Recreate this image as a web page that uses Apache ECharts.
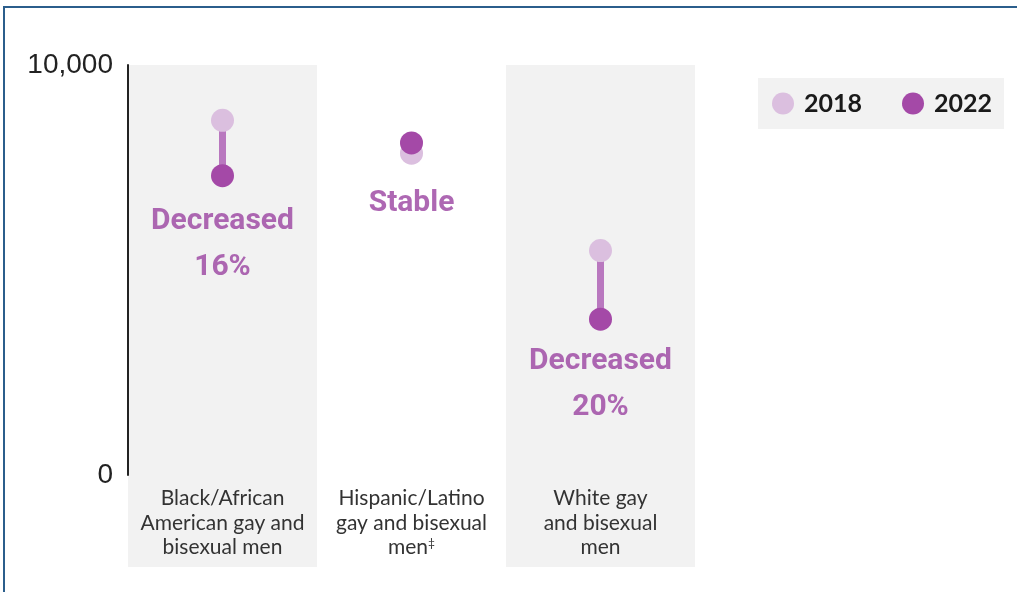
<!DOCTYPE html>
<html>
<head>
<meta charset="utf-8">
<script src="https://cdn.jsdelivr.net/npm/echarts@6/dist/echarts.min.js"></script>
<style>
  html, body { margin: 0; padding: 0; background: #fff; }
  #wrap { position: relative; width: 1017px; height: 592px; overflow: hidden; }
  #chart { position: absolute; left: 0; top: 0; width: 1017px; height: 592px; }
  #frame { position: absolute; left: 3px; top: 6px; right: -10px; bottom: -10px;
           border-left: 2px solid #2b5e8c; border-top: 2px solid #2b5e8c; pointer-events: none; }
</style>
</head>
<body>
<div id="wrap"><div id="chart"></div><div id="frame"></div></div>
<script>
// data
var categories = [
  'Black/African\nAmerican gay and\nbisexual men',
  'Hispanic/Latino\ngay and bisexual\nmen{sup|‡}',
  'White gay\nand bisexual\nmen'
];
var years = ['2018', '2022'];
var values2018 = [8650, 7850, 5475];
var values2022 = [7300, 8100, 3800];
var changeLabels = ['Decreased\n16%', 'Stable', 'Decreased\n20%'];
var yMin = 0;
var yMax = 10000;

var light = '#dbbfdf';
var dark = '#a449a7';
var stem = '#b978bf';
var textPurple = '#9a42a0';

var chart = echarts.init(document.getElementById('chart'));

var option = {
  backgroundColor: 'transparent',
  animation: false,
  legend: {
    data: years,
    left: 758,
    top: 78,
    padding: [13, 12, 13, 14],
    backgroundColor: '#f2f2f2',
    icon: 'circle',
    itemWidth: 22,
    itemHeight: 22,
    itemGap: 40,
    textStyle: {fontFamily: 'Lato, Roboto, sans-serif', fontWeight: 'bold', fontSize: 25, color: '#1a1a1a', padding: [0, 0, 0, 5]}
  },
  grid: [
    // grey bands behind the first and third columns
    {left: 128, right: 322, top: 65, bottom: 25},
    // the data
    {left: 128, right: 322, top: 65, bottom: 117}
  ],
  xAxis: [
    {
      type: 'category', gridIndex: 0, data: categories,
      axisLine: {show: false}, axisTick: {show: false}, axisLabel: {show: false},
      splitLine: {show: false},
      splitArea: {show: true, areaStyle: {color: ['#f2f2f2', 'rgba(255,255,255,0)']}}
    },
    {
      type: 'category', gridIndex: 1, data: categories,
      axisLine: {show: false}, axisTick: {show: false},
      axisLabel: {
        interval: 0, margin: 11, fontSize: 21, lineHeight: 24.5, color: '#333',
        fontFamily: 'Lato, sans-serif',
        rich: {sup: {fontSize: 12, color: '#333', padding: [0, 0, 8, 0]}}
      }
    }
  ],
  yAxis: [
    {type: 'value', gridIndex: 0, show: false, min: 0, max: 1},
    {
      type: 'value', gridIndex: 1, min: yMin, max: yMax, interval: yMax - yMin, z: 5,
      axisLine: {show: true, lineStyle: {color: '#222', width: 2}},
      axisTick: {show: false},
      splitLine: {show: false},
      axisLabel: {
        margin: 15, fontSize: 28, color: '#222', fontFamily: "'Liberation Sans', Arial, sans-serif",
        padding: [0, 0, 12, 0],
        formatter: function (v) { return v.toLocaleString('en-US'); }
      }
    }
  ],
  series: [
    {
      type: 'custom',
      name: 'change',
      xAxisIndex: 1, yAxisIndex: 1,
      encode: {x: 0, y: [1, 2]},
      data: categories.map(function (c, i) { return [i, values2018[i], values2022[i]]; }),
      renderItem: function (params, api) {
        var a = api.coord([api.value(0), api.value(1)]);
        var b = api.coord([api.value(0), api.value(2)]);
        return {
          type: 'line',
          shape: {x1: a[0], y1: a[1], x2: b[0], y2: b[1]},
          style: {stroke: stem, lineWidth: 7}
        };
      },
      z: 2
    },
    {
      type: 'scatter', name: years[0], xAxisIndex: 1, yAxisIndex: 1,
      data: values2018, symbolSize: 23, itemStyle: {color: light, opacity: 1}, z: 3
    },
    {
      type: 'scatter', name: years[1], xAxisIndex: 1, yAxisIndex: 1,
      data: values2022, symbolSize: 23, itemStyle: {color: dark, opacity: 1}, z: 4
    },
    {
      // change text under the lower dot of each pair
      type: 'scatter', name: 'labels', xAxisIndex: 1, yAxisIndex: 1,
      symbolSize: 1, itemStyle: {color: 'rgba(0,0,0,0)'}, z: 5,
      data: changeLabels.map(function (t, i) {
        var low = Math.min(values2018[i], values2022[i]);
        var gap = values2022[i] > values2018[i] ? 27 : (i === 0 ? 22 : 19);
        return {value: low, label: {distance: gap}};
      }),
      label: {
        show: true, position: 'bottom',
        formatter: function (p) { return changeLabels[p.dataIndex]; },
        fontFamily: 'Roboto, sans-serif', fontWeight: 'bold', fontSize: 30, lineHeight: 46, color: textPurple
      }
    }
  ]
};

chart.setOption(option);
</script>
</body>
</html>
